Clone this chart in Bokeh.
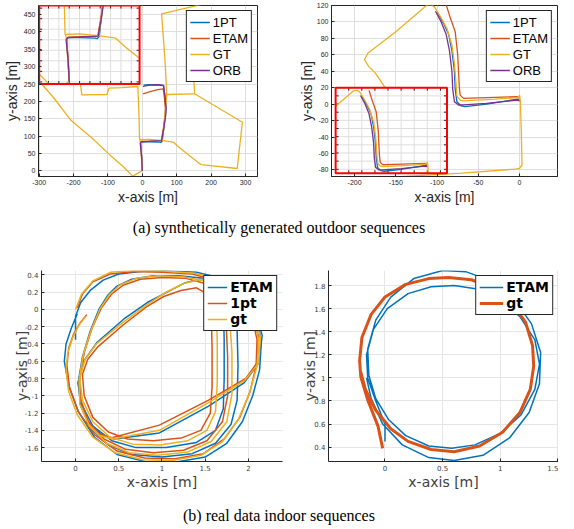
from bokeh.plotting import figure
from bokeh.models import Range1d, FixedTicker, Legend, LegendItem, Div
from bokeh.layouts import row, column
from bokeh.embed import file_html
from bokeh.resources import INLINE

BLUE, RED, YEL, PUR = "#0072BD", "#D95319", "#EDB120", "#7E2F8E"

# ---------------- data: (a) left, synthetic outdoor ----------------
tl_1pt_x = [0, -2, -5, -2, 20, 50, 54, 58, 62, 67, 69, 66, 62, 40, 20, 4]
tl_1pt_y = [0, 40, 82, 84, 84, 83, 82, 86, 120, 160, 180, 212, 246, 248, 248, 247]
tl_etam_x = [0, -2, -5, -2, 20, 55, 61, 66, 67, 64, 61, 45, 25, 2]
tl_etam_y = [0, 40, 82, 85, 86, 87, 120, 160, 180, 212, 236, 234, 229, 222]
tl_gt_x = [[-300, -293, -259, -207, -149, -92, -55, -28, -5, 0, -3, -6, -8, -10, -13, -60, -97, -103, -176, -180, -183],
           [-8, 20, 56, 90, 109, 171, 276, 291, 152, 71, 66, 56, 185],
           [152, 150, 149],
           [71, 67, 62, 57]]
tl_gt_y = [[262, 250, 212, 145, 97, 44, 12, -15, -2, 2, 45, 86, 92, 170, 243, 240, 238, 220, 219, 250, 300],
           [90, 91, 88, 83, 66, 18, 7, 140, 222, 220, 318, 452, 482],
           [222, 265, 420],
           [220, 170, 120, 88]]
tl_orb_x = [0, -2, -6, -3, 20, 56, 62, 68, 69, 66, 61, 40, 20, 2]
tl_orb_y = [0, 40, 80, 84, 85, 87, 120, 160, 180, 215, 246, 248, 247, 243]

# ---------------- data: (a) right ----------------
tr_1pt_x = [-100, -92, -86, -82, -79, -78, -76, -71, -66, -40, -3, 0]
tr_1pt_y = [112, 98, 85, 65, 40, 18, 3, -2, -3, 0, 6, 5]
tr_etam_x = [-89, -84, -78, -75, -74, -73, -72, -68, -40, -3, 0]
tr_etam_y = [121, 105, 88, 60, 40, 20, 11, 7, 8, 9, 7]
tr_gt_x = [-175, -163, -175, -183, -188, -184, -150, -113, -107, -103, -95, -88, -82, -79, -77, -76, -72,
           -68, -30, -2, 0, 1, 2, 3, 0, -5, -70, -141, -200]
tr_gt_y = [0, 20, 38, 46, 54, 62, 88, 120, 121, 118, 105, 92, 72, 50, 25, 10, 5,
           4, 6, 8, 11, 4, -30, -74, -78, -79, -84, -88, -92]
tr_orb_x = [-102, -95, -89, -85, -82, -81, -79, -74, -68, -40, -3, 0]
tr_orb_y = [113, 100, 85, 65, 40, 18, 3, -1, -1, 1, 5, 4]

# ---------------- data: (b) left, real indoor ----------------
bl_etam_x = [[0.00, 0.00, 0.06, 0.17, 0.32, 0.50, 0.75, 1.05, 1.40, 1.70, 1.95, 2.10, 2.15, 2.13, 2.05, 1.93, 1.75, 1.50, 1.15, 0.80, 0.48, 0.22, 0.03, -0.08, -0.13, -0.11, -0.05, 0.02],
             [0.08, 0.17, 0.27, 0.37, 0.48, 0.65, 0.90, 1.20, 1.48, 1.68, 1.82, 1.87, 1.88, 1.87, 1.80, 1.62, 1.35, 1.00, 0.65, 0.38, 0.18, 0.06, 0.03, 0.08],
             [0.25, 0.56, 0.83, 1.06, 1.27, 1.50, 1.65, 1.71, 1.72, 1.72, 1.71, 1.62, 1.40, 1.05, 0.70, 0.42, 0.20, 0.07, 0.03, 0.08, 0.25],
             [0.15, 0.30, 0.45, 0.97, 1.54, 1.95, 2.12, 2.16, 2.08, 1.90]]
bl_etam_y = [[-0.35, -0.08, 0.08, 0.22, 0.34, 0.41, 0.44, 0.445, 0.43, 0.36, 0.18, -0.08, -0.38, -0.70, -1.00, -1.30, -1.55, -1.71, -1.77, -1.76, -1.68, -1.48, -1.18, -0.88, -0.60, -0.40, -0.22, -0.05],
             [-0.55, -0.25, 0.00, 0.16, 0.27, 0.35, 0.39, 0.39, 0.36, 0.26, 0.08, -0.25, -0.65, -1.05, -1.33, -1.55, -1.67, -1.71, -1.68, -1.57, -1.38, -1.12, -0.85, -0.55],
             [-0.38, -0.11, 0.08, 0.20, 0.31, 0.36, 0.28, 0.08, -0.35, -0.80, -1.15, -1.40, -1.54, -1.60, -1.60, -1.52, -1.35, -1.10, -0.85, -0.62, -0.38],
             [-1.30, -1.45, -1.50, -1.43, -1.12, -0.85, -0.62, -0.30, -0.02, 0.20]]
bl_1pt_x = [[0.13, 0.05, -0.02, -0.08, -0.10, -0.07, 0.03, 0.22, 0.48, 0.80, 1.15, 1.48, 1.72, 1.90, 2.02, 2.09, 2.10, 2.04, 1.88, 1.65, 1.35, 1.00, 0.68, 0.40, 0.20, 0.08, 0.02],
            [0.10, 0.19, 0.30, 0.42, 0.55, 0.75, 1.00, 1.28, 1.50, 1.66, 1.74, 1.76, 1.76, 1.70, 1.52, 1.25, 0.90, 0.58, 0.33, 0.15, 0.06, 0.05, 0.10],
            [0.26, 0.55, 0.82, 1.02, 1.22, 1.40, 1.52, 1.57, 1.58, 1.58, 1.56, 1.45, 1.22, 0.90, 0.60, 0.38, 0.20, 0.10, 0.08, 0.14, 0.26],
            [0.12, 0.27, 0.42, 0.97, 1.54, 1.97, 2.10, 2.12, 2.04, 1.86]]
bl_1pt_y = [[-0.06, -0.16, -0.28, -0.45, -0.65, -0.90, -1.18, -1.45, -1.64, -1.72, -1.73, -1.67, -1.50, -1.25, -0.95, -0.65, -0.35, -0.08, 0.16, 0.33, 0.41, 0.43, 0.44, 0.41, 0.32, 0.18, 0.02],
            [-0.50, -0.22, 0.02, 0.18, 0.28, 0.35, 0.37, 0.36, 0.30, 0.15, -0.10, -0.55, -1.00, -1.30, -1.52, -1.63, -1.66, -1.62, -1.50, -1.30, -1.05, -0.78, -0.50],
            [-0.43, -0.18, 0.03, 0.15, 0.22, 0.25, 0.18, 0.00, -0.45, -0.90, -1.20, -1.40, -1.49, -1.52, -1.50, -1.42, -1.25, -1.00, -0.75, -0.58, -0.43],
            [-1.30, -1.44, -1.485, -1.34, -1.05, -0.80, -0.62, -0.32, -0.05, 0.16]]
bl_gt_x = [[0.12, 0.04, -0.03, -0.09, -0.11, -0.08, 0.02, 0.20, 0.46, 0.78, 1.12, 1.45, 1.70, 1.88, 2.01, 2.10, 2.12, 2.06, 1.92, 1.68, 1.38, 1.02, 0.68, 0.40, 0.20, 0.07, 0.00],
           [0.09, 0.18, 0.28, 0.39, 0.51, 0.70, 0.95, 1.24, 1.50, 1.68, 1.78, 1.81, 1.81, 1.75, 1.57, 1.30, 0.95, 0.62, 0.36, 0.16, 0.05, 0.04, 0.09],
           [0.24, 0.55, 0.82, 1.03, 1.25, 1.46, 1.58, 1.63, 1.64, 1.64, 1.62, 1.52, 1.30, 0.98, 0.66, 0.40, 0.20, 0.08, 0.05, 0.11, 0.24],
           [0.14, 0.28, 0.43, 0.97, 1.54, 1.96, 2.12, 2.14, 2.06, 1.88]]
bl_gt_y = [[-0.08, -0.18, -0.32, -0.50, -0.70, -0.95, -1.22, -1.48, -1.66, -1.74, -1.75, -1.69, -1.53, -1.28, -0.98, -0.66, -0.36, -0.08, 0.16, 0.34, 0.42, 0.445, 0.45, 0.43, 0.33, 0.18, 0.00],
           [-0.52, -0.24, 0.00, 0.17, 0.28, 0.36, 0.39, 0.38, 0.33, 0.20, -0.05, -0.50, -0.98, -1.30, -1.53, -1.65, -1.69, -1.66, -1.55, -1.35, -1.10, -0.82, -0.52],
           [-0.40, -0.15, 0.05, 0.19, 0.30, 0.35, 0.26, 0.05, -0.40, -0.85, -1.18, -1.40, -1.52, -1.57, -1.56, -1.48, -1.30, -1.05, -0.80, -0.58, -0.40],
           [-1.32, -1.46, -1.50, -1.40, -1.08, -0.82, -0.62, -0.32, -0.04, 0.18]]

# ---------------- data: (b) right ----------------
br_etam_x = [0.00, 0.00, -0.08, -0.15, -0.16, -0.10, 0.02, 0.20, 0.40, 0.60, 0.80, 1.00, 1.17, 1.30, 1.34, 1.30, 1.18, 1.00, 0.78,
             0.58, 0.38, 0.18, 0.03, -0.08, -0.14, -0.15, -0.08, 0.05, 0.25, 0.50, 0.70, 0.92, 1.12, 1.27, 1.35, 1.34, 1.25, 1.08,
             0.85, 0.60, 0.38, 0.15, -0.02, -0.12, -0.16]
br_etam_y = [0.45, 0.60, 0.80, 1.00, 1.20, 1.42, 1.60, 1.73, 1.79, 1.80, 1.77, 1.68, 1.53, 1.33, 1.12, 0.90, 0.68, 0.52, 0.42,
             0.39, 0.41, 0.50, 0.64, 0.82, 1.02, 1.25, 1.50, 1.70, 1.86, 1.93, 1.92, 1.84, 1.68, 1.47, 1.22, 0.95, 0.70, 0.48,
             0.33, 0.285, 0.31, 0.42, 0.60, 0.82, 1.00]
br_gt_x = [-0.02, -0.06, -0.15, -0.21, -0.22, -0.20, -0.12, 0.00, 0.18, 0.38, 0.55, 0.75, 0.95, 1.10, 1.22, 1.28, 1.29, 1.26,
           1.17, 1.02, 0.82, 0.60, 0.40, 0.20, 0.05, -0.08, -0.17, -0.21]
br_gt_y = [0.39, 0.58, 0.81, 1.01, 1.15, 1.35, 1.55, 1.70, 1.81, 1.86, 1.87, 1.85, 1.77, 1.65, 1.48, 1.28, 1.10, 0.90,
           0.70, 0.53, 0.41, 0.36, 0.38, 0.45, 0.56, 0.72, 0.90, 1.05]

# ---------------- ticks ----------------
tl_xticks = [-300, -200, -100, 0, 100, 200, 300]
tl_xlabels = ["-300", "-200", "-100", "0", "100", "200", "300"]
tl_yticks = [0, 50, 100, 150, 200, 250, 300, 350, 400, 450]
tl_ylabels = ["0", "50", "100", "150", "200", "250", "300", "350", "400", "450"]
tr_xticks = [-200, -150, -100, -50, 0]
tr_xlabels = ["-200", "-150", "-100", "-50", "0"]
tr_yticks = [-80, -60, -40, -20, 0, 20, 40, 60, 80, 100, 120]
tr_ylabels = ["-80", "-60", "-40", "-20", "0", "20", "40", "60", "80", "100", "120"]
bl_xticks = [0, 0.5, 1, 1.5, 2]
bl_xlabels = ["0", "0.5", "1", "1.5", "2"]
bl_yticks = [0.4, 0.2, 0, -0.2, -0.4, -0.6, -0.8, -1, -1.2, -1.4, -1.6]
bl_ylabels = ["0.4", "0.2", "0", "-0.2", "-0.4", "-0.6", "-0.8", "-1", "-1.2", "-1.4", "-1.6"]
br_xticks = [0, 0.5, 1, 1.5]
br_xlabels = ["0", "0.5", "1", "1.5"]
br_yticks = [0.4, 0.6, 0.8, 1, 1.2, 1.4, 1.6, 1.8]
br_ylabels = ["0.4", "0.6", "0.8", "1", "1.2", "1.4", "1.6", "1.8"]

# inset views (data window shown in each inset, and the inset box)
tl_inset_box = (-300, -8, 250, 476)
tl_inset_src = (-58, 136, -4, 145)
tl_inset_gx = [-40, -20, 0, 20, 40, 60, 80, 100, 120]
tl_inset_gy = [0, 20, 40, 60, 80, 100, 120, 140]
tr_inset_box = (-223, -88, -84, 20)
tr_inset_src = (-140, 30, -6, 125)
tr_inset_gx = [-120, -100, -80, -60, -40, -20, 0, 20]
tr_inset_gy = [0, 12.5, 25, 37.5, 50, 62.5, 75, 87.5, 100, 112.5]


def clip_poly(xs, ys, x0, x1, y0, y1):
    pieces, cur = [], []
    for i in range(len(xs) - 1):
        ax, ay, bx, by = xs[i], ys[i], xs[i + 1], ys[i + 1]
        dx, dy = bx - ax, by - ay
        t0, t1, ok = 0.0, 1.0, True
        for pp, q in ((-dx, ax - x0), (dx, x1 - ax), (-dy, ay - y0), (dy, y1 - ay)):
            if pp == 0:
                if q < 0:
                    ok = False
                    break
            else:
                t = q / pp
                if pp < 0:
                    if t > t1:
                        ok = False
                        break
                    t0 = max(t0, t)
                else:
                    if t < t0:
                        ok = False
                        break
                    t1 = min(t1, t)
        if not ok:
            if cur:
                pieces.append(cur)
                cur = []
            continue
        P = (ax + t0 * dx, ay + t0 * dy)
        Q = (ax + t1 * dx, ay + t1 * dy)
        if cur and abs(cur[-1][0] - P[0]) < 1e-9 and abs(cur[-1][1] - P[1]) < 1e-9:
            cur.append(Q)
        else:
            if cur:
                pieces.append(cur)
            cur = [P, Q]
        if t1 < 1.0:
            pieces.append(cur)
            cur = []
    if cur:
        pieces.append(cur)
    return pieces


def draw_inset(p, box, src, series, gx, gy, tick, fw, fh):
    bx0, bx1, by0, by1 = box
    sx0, sx1, sy0, sy1 = src
    kx = (bx1 - bx0) / (sx1 - sx0)
    ky = (by1 - by0) / (sy1 - sy0)
    p.quad(left=bx0, right=bx1, bottom=by0, top=by1, fill_color="white", line_color=None)
    vx = [bx0 + (g - sx0) * kx for g in gx]
    hy = [by0 + (g - sy0) * ky for g in gy]
    p.segment(x0=vx, y0=[by0] * len(vx), x1=vx, y1=[by1] * len(vx), line_color="#dedede", line_width=1)
    p.segment(x0=[bx0] * len(hy), y0=hy, x1=[bx1] * len(hy), y1=hy, line_color="#dedede", line_width=1)
    tkx = tick * (p.x_range.end - p.x_range.start) / fw
    tky = tick * (p.y_range.end - p.y_range.start) / fh
    p.segment(x0=vx + vx, y0=[by0] * len(vx) + [by1] * len(vx), x1=vx + vx,
              y1=[by0 + tky] * len(vx) + [by1 - tky] * len(vx), line_color="#262626", line_width=1)
    p.segment(x0=[bx0] * len(hy) + [bx1] * len(hy), y0=hy + hy,
              x1=[bx0 + tkx] * len(hy) + [bx1 - tkx] * len(hy), y1=hy + hy, line_color="#262626", line_width=1)
    for paths_x, paths_y, color in series:
        for xs, ys in zip(paths_x, paths_y):
            for piece in clip_poly(xs, ys, sx0, sx1, sy0, sy1):
                p.line([bx0 + (a - sx0) * kx for a, _ in piece],
                       [by0 + (b - sy0) * ky for _, b in piece], line_color=color, line_width=1.3)
    p.quad(left=bx0, right=bx1, bottom=by0, top=by1, fill_color=None, line_color="#ff0000", line_width=2)


def make_fig(w, h, xr, yr, mb, axis_col, box):
    p = figure(width=w, height=h, x_range=Range1d(*xr), y_range=Range1d(*yr),
               output_backend="svg", toolbar_location=None,
               min_border_left=mb[0], min_border_right=mb[1], min_border_top=mb[2], min_border_bottom=mb[3])
    p.background_fill_color = "white"
    p.border_fill_color = "white"
    if box:
        p.outline_line_color = axis_col
        p.outline_line_width = 1
        p.outline_line_alpha = 1
    else:
        p.outline_line_color = None
    return p


def style_axes(p, font, tick_col, axis_col, lab_col, xt, xl, yt, yl, xstd, ystd, grid_col):
    for ax, t, l, std in ((p.xaxis[0], xt, xl, xstd), (p.yaxis[0], yt, yl, ystd)):
        tk = FixedTicker(ticks=t)
        ax.ticker = tk
        ax.major_label_overrides = {v: s for v, s in zip(t, l)}
        ax.minor_tick_line_color = None
        ax.major_tick_in = 3
        ax.major_tick_out = 0
        ax.major_tick_line_color = axis_col
        ax.axis_line_color = axis_col
        ax.major_label_text_font = font
        ax.major_label_text_font_size = "7px"
        ax.major_label_text_color = tick_col
        ax.major_label_standoff = 3
        ax.axis_label_text_font = font
        ax.axis_label_text_font_size = "14px"
        ax.axis_label_text_font_style = "normal"
        ax.axis_label_text_color = lab_col
        ax.axis_label_standoff = std
    p.xgrid.ticker = p.xaxis[0].ticker
    p.ygrid.ticker = p.yaxis[0].ticker
    p.grid.grid_line_color = grid_col
    p.grid.grid_line_width = 1
    p.xaxis.axis_label = "x-axis [m]"
    p.yaxis.axis_label = "y-axis [m]"


def add_legend(p, items, font, size, bold, gw, lh):
    leg = Legend(items=[LegendItem(label=l, renderers=[r]) for l, r in items], location="top_right")
    leg.label_text_font = font
    leg.label_text_font_size = size
    leg.label_text_font_style = "bold" if bold else "normal"
    leg.label_text_color = "black"
    leg.border_line_color = "#262626"
    leg.border_line_width = 1
    leg.border_line_alpha = 1
    leg.background_fill_alpha = 1
    leg.padding = 3
    leg.spacing = 0
    leg.margin = 5
    leg.glyph_width = gw
    leg.glyph_height = lh
    leg.label_height = lh
    leg.label_standoff = 3
    p.add_layout(leg)


MF, GF = "Liberation Sans", "DejaVu Sans"

# ---- top left
p1 = make_fig(282, 212, (-302, 335), (-16, 476), (35, 25, 5, 36), "#262626", True)
style_axes(p1, MF, "#262626", "#262626", "#262626", tl_xticks, tl_xlabels, tl_yticks, tl_ylabels, 1, 1, "#dedede")
r11 = p1.line(tl_1pt_x, tl_1pt_y, line_color=BLUE, line_width=1.3)
r12 = p1.line(tl_etam_x, tl_etam_y, line_color=RED, line_width=1.3)
r13 = p1.multi_line(tl_gt_x, tl_gt_y, line_color=YEL, line_width=1.3)
r14 = p1.line(tl_orb_x, tl_orb_y, line_color=PUR, line_width=1.3)
draw_inset(p1, tl_inset_box, tl_inset_src,
           [([tl_1pt_x], [tl_1pt_y], BLUE), ([tl_etam_x], [tl_etam_y], RED),
            (tl_gt_x, tl_gt_y, YEL), ([tl_orb_x], [tl_orb_y], PUR)], tl_inset_gx, tl_inset_gy, 3, 222, 171)
add_legend(p1, [("1PT", r11), ("ETAM", r12), ("GT", r13), ("ORB", r14)], MF, "13px", False, 20, 16)

# ---- top right
p2 = make_fig(276, 212, (-228, 46), (-88, 120), (49, 1, 5, 36), "#262626", True)
style_axes(p2, MF, "#262626", "#262626", "#262626", tr_xticks, tr_xlabels, tr_yticks, tr_ylabels, 1, -1, "#dedede")
r21 = p2.line(tr_1pt_x, tr_1pt_y, line_color=BLUE, line_width=1.3)
r22 = p2.line(tr_etam_x, tr_etam_y, line_color=RED, line_width=1.3)
r23 = p2.line(tr_gt_x, tr_gt_y, line_color=YEL, line_width=1.3)
r24 = p2.line(tr_orb_x, tr_orb_y, line_color=PUR, line_width=1.3)
draw_inset(p2, tr_inset_box, tr_inset_src,
           [([tr_1pt_x], [tr_1pt_y], BLUE), ([tr_etam_x], [tr_etam_y], RED),
            ([tr_gt_x], [tr_gt_y], YEL), ([tr_orb_x], [tr_orb_y], PUR)], tr_inset_gx, tr_inset_gy, 3, 226, 171)
add_legend(p2, [("1PT", r21), ("ETAM", r22), ("GT", r23), ("ORB", r24)], MF, "13px", False, 20, 16)

# ---- bottom left
p3 = make_fig(284, 246, (-0.394, 2.395), (-1.761, 0.451), (41, 2, 24, 30), "#262626", False)
style_axes(p3, GF, "#404040", "#262626", "#404040", bl_xticks, bl_xlabels, bl_yticks, bl_ylabels, 0, -8, "#e6e6e6")
r31 = p3.multi_line(bl_etam_x, bl_etam_y, line_color=BLUE, line_width=1.5)
r32 = p3.multi_line(bl_1pt_x, bl_1pt_y, line_color=RED, line_width=1.5)
r33 = p3.multi_line(bl_gt_x, bl_gt_y, line_color=YEL, line_width=1.5)
add_legend(p3, [("ETAM", r31), ("1pt", r32), ("gt", r33)], GF, "14px", True, 20, 16)

# ---- bottom right
p4 = make_fig(274, 246, (-0.49, 1.505), (0.276, 1.93), (44, 0, 24, 30), "#262626", False)
style_axes(p4, GF, "#404040", "#262626", "#404040", br_xticks, br_xlabels, br_yticks, br_ylabels, 0, -7, "#e6e6e6")
r41 = p4.line(br_etam_x, br_etam_y, line_color=BLUE, line_width=1.5)
r42 = p4.line(br_gt_x, br_gt_y, line_color=RED, line_width=3)
add_legend(p4, [("ETAM", r41), ("gt", r42)], GF, "14px", True, 24, 16)

cap_style = "font-family:'Liberation Serif';font-size:16px;color:#000;text-align:center;width:558px;line-height:18px;"
capA = Div(text="<div style=\"%spadding-top:7px\">(a) synthetically generated outdoor sequences</div>" % cap_style,
           width=558, height=34, margin=(0, 0, 0, 0))
capB = Div(text="<div style=\"%spadding-top:15px\">(b) real data indoor sequences</div>" % cap_style,
           width=558, height=33, margin=(0, 0, 0, 0))

layout = column(row(p1, p2), capA, row(p3, p4), capB)

open("out.html", "w").write(file_html(layout, INLINE))
